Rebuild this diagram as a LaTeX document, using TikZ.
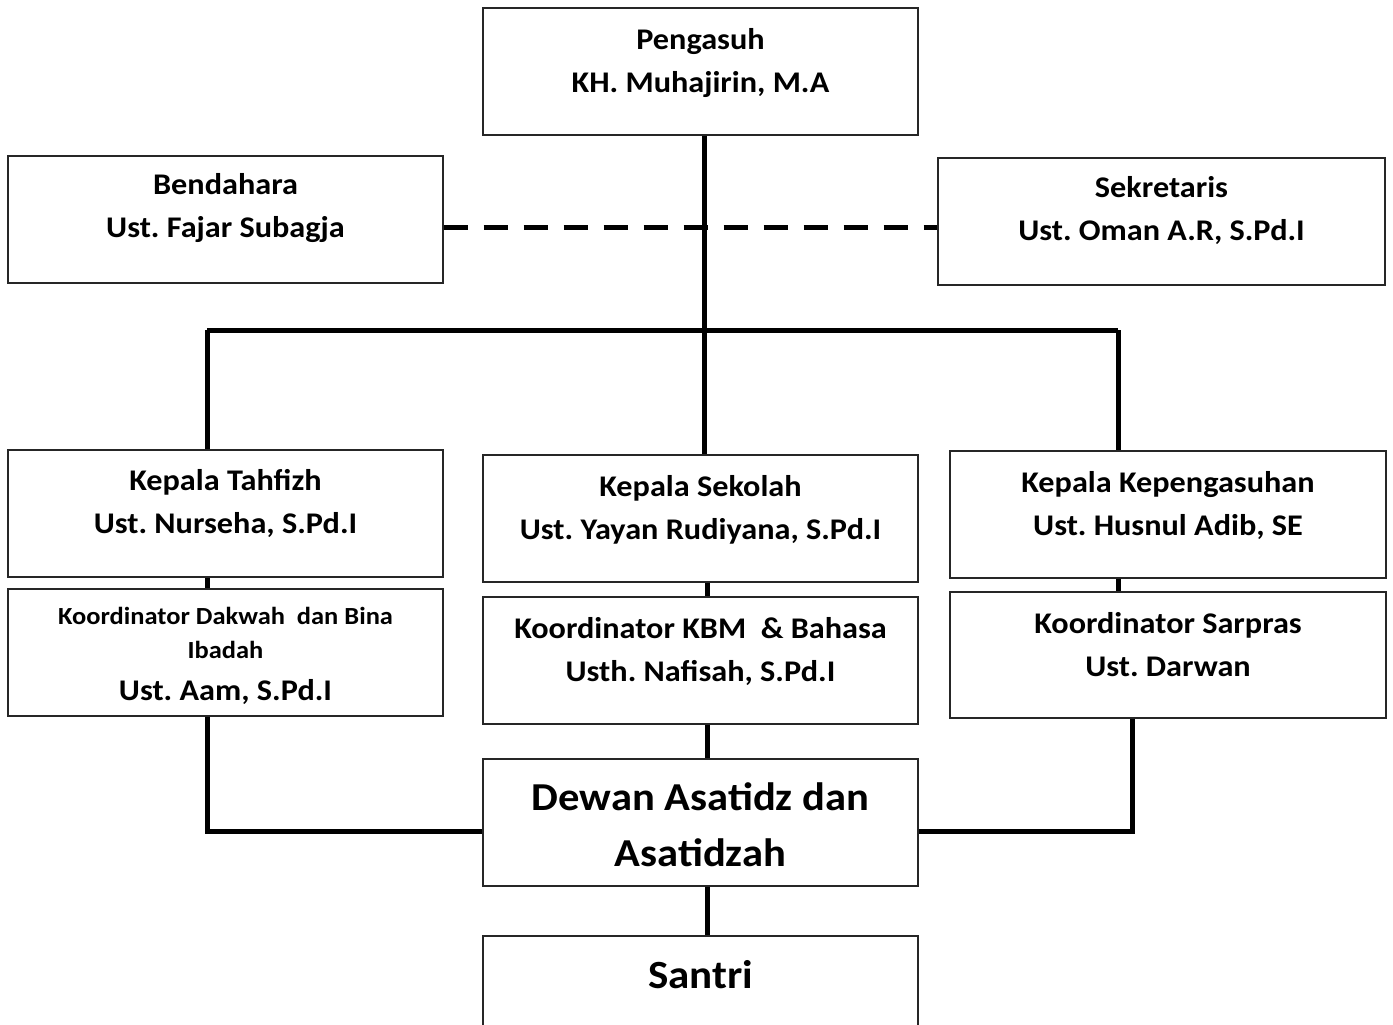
\documentclass[tikz,border=0pt]{standalone}
\usepackage{fontspec}
\setmainfont{Carlito}[FakeStretch=1.075]
\usepackage{tikz}
\usetikzlibrary{positioning}
\pgfdeclarelayer{nodelayer}
\pgfdeclarelayer{edgelayer}
\pgfsetlayers{nodelayer,edgelayer,main}
\frenchspacing
\tikzset{
  box/.style={draw=black!85, line width=0.6pt, minimum width=217.5pt, minimum height=63.5pt, inner sep=0pt},
  txt/.style={align=center, inner sep=0pt, font=\bfseries\fontsize{15}{21.5}\selectfont},
  bigtxt/.style={align=center, inner sep=0pt, font=\bfseries\fontsize{19.8}{28}\selectfont},
  link/.style={line width=2.5pt},
  dashlink/.style={line width=2.5pt, dash pattern=on 12pt off 8pt},
}

\begin{document}
\begin{tikzpicture}[x=0.5pt, y=-0.5pt]
  \useasboundingbox (0, 0) rectangle (1393, 1024);
  \begin{pgfonlayer}{nodelayer}
    \node [box] (peng) at (700.5, 71.5) {};
    \node [txt] (pengT) at (700.5, 63) {Pengasuh\\KH. Muhajirin, M.A};
    \node [box] (bend) at (225.5, 219.5) {};
    \node [txt] (bendT) at (225.5, 208.5) {Bendahara\\Ust. Fajar Subagja};
    \node [box, minimum width=223.5pt] (sekr) at (1161.5, 221.5) {};
    \node [txt] (sekrT) at (1161.5, 210.5) {Sekretaris\\Ust. Oman A.R, S.Pd.I};
    \node [box] (tahf) at (225.5, 513.5) {};
    \node [txt] (tahfT) at (225.5, 503.5) {Kepala Tahfizh\\Ust. Nurseha, S.Pd.I};
    \node [box] (dakw) at (225.5, 652.5) {};
    \node [txt] (dakwT) at (225.5, 656) {{\fontsize{12.3}{17}\selectfont Koordinator Dakwah\ \ dan Bina}\\[-4.5pt]
      {\fontsize{12.3}{17}\selectfont Ibadah}\\[-0.8pt]Ust. Aam, S.Pd.I};
    \node [box] (skl) at (700.5, 518.5) {};
    \node [txt] (sklT) at (700.5, 509.5) {Kepala Sekolah\\Ust. Yayan Rudiyana, S.Pd.I};
    \node [box] (kbm) at (700.5, 660.5) {};
    \node [txt] (kbmT) at (700.5, 651.5) {Koordinator KBM\ \ \& Bahasa\\Usth. Nafisah, S.Pd.I};
    \node [box, minimum width=218pt] (kpg) at (1168, 514.5) {};
    \node [txt] (kpgT) at (1168, 505.5) {Kepala Kepengasuhan\\Ust. Husnul Adib, SE};
    \node [box, minimum width=218pt, minimum height=63pt] (srp) at (1168, 655) {};
    \node [txt] (srpT) at (1168, 644.5) {Koordinator Sarpras\\Ust. Darwan};
    \node [box] (dwn) at (700.5, 822.5) {};
    \node [bigtxt] (dwnT) at (700.5, 825) {Dewan Asatidz dan\\Asatidzah};
    \node [box] (snt) at (700.5, 999.5) {};
    \node [bigtxt, font=\bfseries\fontsize{20}{28}\selectfont] (sntT) at (700.5, 975) {Santri};
    \coordinate (busL) at (207, 330);
    \coordinate (busR) at (1118, 330);
    \coordinate (lowL) at (207, 831);
    \coordinate (lowR) at (1132, 831);
    \coordinate (midU) at (704, 0);
    \coordinate (midD) at (707, 0);
    \coordinate (dsh) at (0, 227);
  \end{pgfonlayer}
  \begin{pgfonlayer}{edgelayer}
    \draw [link] (peng.south -| midU) to (skl.north -| midU);
    \draw [link] (busL) to (busR);
    \draw [link] (busL) to (busL |- tahf.north);
    \draw [link] (busR) to (busR |- kpg.north);
    \draw [dashlink] (bend.east |- dsh) to (sekr.west |- dsh);
    \draw [link] (tahf.south -| busL) to (dakw.north -| busL);
    \draw [link] (skl.south -| midD) to (kbm.north -| midD);
    \draw [link] (kpg.south -| busR) to (srp.north -| busR);
    \draw [link] (dakw.south -| lowL) to (lowL) to (lowL -| dwn.west);
    \draw [link] (srp.south -| lowR) to (lowR) to (lowR -| dwn.east);
    \draw [link] (kbm.south -| midD) to (dwn.north -| midD);
    \draw [link] (dwn.south -| midD) to (snt.north -| midD);
  \end{pgfonlayer}
\end{tikzpicture}
\end{document}
